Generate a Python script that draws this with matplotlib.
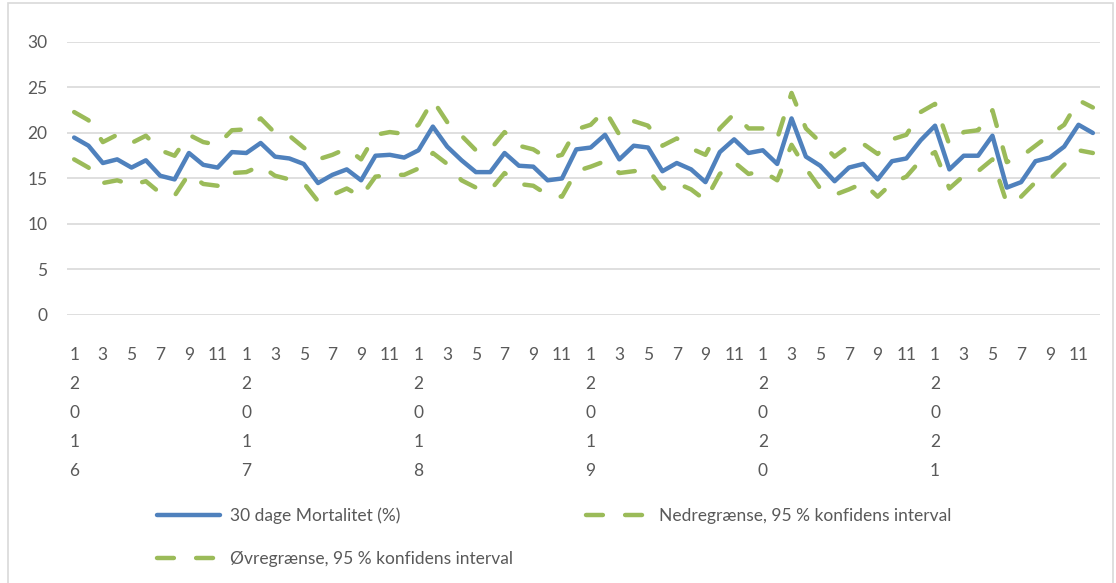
import matplotlib
matplotlib.use("Agg")
import matplotlib.pyplot as plt
from matplotlib.patches import Rectangle

# 30-dages mortalitet pr. måned 2016-2021 med 95 % konfidensinterval
years = [2016, 2017, 2018, 2019, 2020, 2021]
months = list(range(1, 13))

mortality = [
    19.5, 18.6, 16.7, 17.1, 16.2, 17.0, 15.3, 14.9, 17.8, 16.5, 16.2, 17.9,
    17.8, 18.9, 17.4, 17.2, 16.6, 14.5, 15.4, 16.0, 14.8, 17.5, 17.6, 17.3,
    18.1, 20.7, 18.5, 17.0, 15.7, 15.7, 17.8, 16.4, 16.3, 14.8, 15.0, 18.2,
    18.4, 19.8, 17.1, 18.6, 18.4, 15.8, 16.7, 16.0, 14.6, 17.9, 19.3, 17.8,
    18.1, 16.6, 21.6, 17.4, 16.4, 14.7, 16.2, 16.6, 14.9, 16.9, 17.2, 19.2,
    20.8, 16.0, 17.5, 17.5, 19.7, 14.0, 14.6, 16.9, 17.3, 18.5, 20.9, 20.0,
]
lower = [
    17.1, 16.2, 14.5, 14.8, 14.3, 14.7, 13.4, 13.1, 15.5, 14.4, 14.2, 15.6,
    15.7, 16.4, 15.3, 14.9, 14.5, 12.5, 13.2, 13.9, 13.0, 15.2, 15.4, 15.4,
    16.1, 17.8, 16.6, 14.8, 14.0, 13.7, 15.6, 14.4, 14.2, 13.2, 13.0, 15.8,
    16.3, 16.9, 15.6, 15.8, 16.0, 13.9, 14.5, 13.8, 12.6, 15.5, 16.8, 15.5,
    15.8, 14.8, 18.7, 16.1, 13.9, 13.2, 13.8, 14.5, 13.0, 14.5, 15.2, 17.0,
    17.9, 13.9, 15.3, 15.8, 17.1, 12.3, 13.0, 14.6, 14.9, 16.5, 18.1, 17.8,
]
upper = [
    22.3, 21.4, 19.0, 19.8, 18.9, 19.7, 18.1, 17.5, 19.8, 19.0, 18.7, 20.3,
    20.4, 21.6, 20.0, 19.7, 18.4, 17.1, 17.6, 18.3, 17.1, 19.8, 20.1, 19.9,
    20.9, 23.6, 21.2, 19.7, 18.1, 18.2, 20.1, 18.6, 18.2, 17.2, 17.6, 20.4,
    20.9, 22.5, 19.8, 21.3, 20.8, 18.6, 19.4, 18.3, 17.6, 20.5, 22.1, 20.5,
    20.5, 19.4, 24.4, 20.5, 19.0, 17.4, 18.6, 18.8, 17.7, 19.3, 19.8, 22.3,
    23.2, 18.7, 20.1, 20.3, 22.5, 16.8, 17.4, 18.6, 19.8, 20.9, 23.6, 22.8,
]

BLUE = "#4F81BD"
GREEN = "#9BBB59"
TEXT = "#595959"
GRID = "#D9D9D9"
FS = 12.5
DASH = (3.8, 5.0)

plt.rcParams["font.family"] = ["Lato", "DejaVu Sans"]

fig = plt.figure(figsize=(11.16, 5.83), dpi=100)
ax = fig.add_axes([0.060, 0.4597, 0.9257, 0.4683])

x = list(range(len(mortality)))
l_mort, = ax.plot(x, mortality, color=BLUE, lw=3.2, solid_capstyle="round",
                  solid_joinstyle="round", label="30 dage Mortalitet (%)", zorder=3)
l_low, = ax.plot(x, lower, color=GREEN, lw=3.2, dashes=DASH,
                 dash_capstyle="round", label="Nedregrænse, 95 % konfidens interval")
l_up, = ax.plot(x, upper, color=GREEN, lw=3.2, dashes=DASH,
                dash_capstyle="round", label="Øvregrænse, 95 % konfidens interval")

ax.set_xlim(-0.5, len(mortality) - 0.5)
ax.set_ylim(0, 30)
ax.set_yticks(range(0, 31, 5))
ax.yaxis.grid(True, color=GRID, lw=1.2)
ax.set_axisbelow(True)
for s in ax.spines.values():
    s.set_visible(False)

# månedslabels, årstal lodret under januar
ticks, labels = [], []
for yi, yr in enumerate(years):
    for m in months:
        if m % 2 == 1:
            ticks.append(yi * 12 + m - 1)
            if m == 1:
                labels.append("1\n" + "\n".join(str(yr)))
            else:
                labels.append(str(m))
ax.set_xticks(ticks)
ax.set_xticklabels(labels)
ax.tick_params(axis="x", length=0, pad=23, labelsize=FS, labelcolor=TEXT)
ax.tick_params(axis="y", length=0, pad=14, labelsize=FS, labelcolor=TEXT)
for t in ax.get_xticklabels():
    t.set_linespacing(2.0)

handles = [l_mort, l_up, l_low]
fig.legend(handles=handles, labels=[h.get_label() for h in handles],
           ncol=2, loc="upper left", bbox_to_anchor=(0.133, 0.145),
           frameon=False, fontsize=FS, labelcolor=TEXT,
           handlelength=3.6, handletextpad=0.6, columnspacing=4.2,
           labelspacing=1.6, borderpad=0)

# rammen om diagrammet
fig.patches.append(Rectangle((0.007, -0.01), 0.99, 1.005, transform=fig.transFigure,
                             fill=False, edgecolor=GRID, lw=1.2))

fig.savefig("out.png", dpi=100)
